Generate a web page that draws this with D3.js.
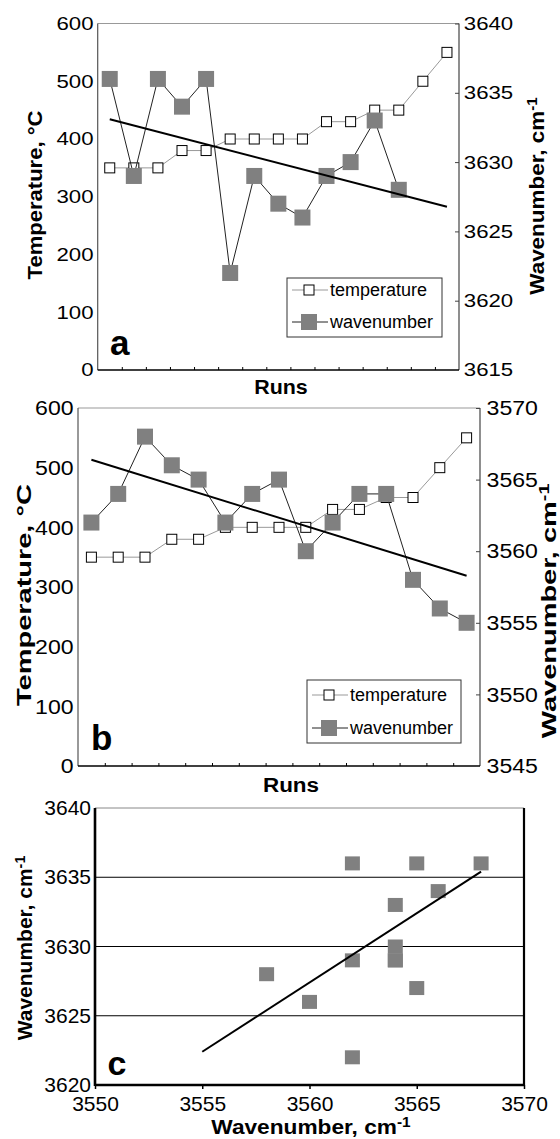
<!DOCTYPE html>
<html lang="en">
<head>
<meta charset="UTF-8">
<title>Temperature and OH wavenumber by run</title>
<script src="https://cdnjs.cloudflare.com/ajax/libs/d3/7.8.5/d3.min.js"></script>
<style>
  body { margin: 0; background: #fff; }
  svg { display: block; font-family: "Liberation Sans", Arial, sans-serif; }
</style>
</head>
<body>
<div id="chart"></div>
<script>
// --- data ---
const runs = [1, 2, 3, 4, 5, 6, 7, 8, 9, 10, 11, 12, 13, 14, 15];
const temperatureA = [350, 350, 350, 380, 380, 400, 400, 400, 400, 430, 430, 450, 450, 500, 550];
const wavenumberA = [3636, 3629, 3636, 3634, 3636, 3622, 3629, 3627, 3626, 3629, 3630, 3633, 3628];
const temperatureB = [350, 350, 350, 380, 380, 400, 400, 400, 400, 430, 430, 450, 450, 500, 550];
const wavenumberB = [3562, 3564, 3568, 3566, 3565, 3562, 3564, 3565, 3560, 3562, 3564, 3564, 3558, 3556, 3555];

const tempTicks = [0, 100, 200, 300, 400, 500, 600];
const waveTicksA = [3615, 3620, 3625, 3630, 3635, 3640];
const waveTicksB = [3545, 3550, 3555, 3560, 3565, 3570];
const scatterXTicks = [3550, 3555, 3560, 3565, 3570];
const scatterYTicks = [3620, 3625, 3630, 3635, 3640];
const scatterGrid = [3625, 3630, 3635];
// fitted line of panel c (ends)
const fitCX = [3555, 3568];
const fitCY = [3622.4, 3635.4];
const legendLabels = ["temperature", "wavenumber"];

const W = 560, H = 1139;
const GREY = "#808080";
const fmt = d3.format("d");

const svg = d3.select("#chart").append("svg")
    .attr("width", W).attr("height", H);

// text helper: rotation + stretch, optional superscript
function label(g, x, y, o) {
    const t = g.append("text")
        .attr("transform", `translate(${x},${y}) rotate(${o.rotate || 0}) scale(${o.sx || 1},${o.sy || 1})`)
        .attr("text-anchor", o.anchor || "middle")
        .attr("dy", o.dy != null ? o.dy : "0.35em")
        .style("font-size", o.size + "px")
        .style("font-weight", o.bold ? "bold" : "normal")
        .attr("fill", "#000");
    t.append("tspan").text(o.text);
    if (o.sup) {
        t.append("tspan").attr("dy", "-0.5em").style("font-size", "0.68em").text(o.sup);
    }
    return t;
}

function linearFit(xs, ys) {
    const mx = d3.mean(xs), my = d3.mean(ys);
    let sxy = 0, sxx = 0;
    xs.forEach((x, i) => { sxy += (x - mx) * (ys[i] - my); sxx += (x - mx) * (x - mx); });
    const m = sxy / sxx;
    return x => my + m * (x - mx);
}

function styleTicks(sel, size, sx) {
    sel.selectAll(".tick text")
        .style("font-size", size + "px")
        .style("font-family", "'Liberation Sans', Arial, sans-serif")
        .attr("fill", "#000")
        .attr("transform", `scale(${sx},1)`);
    sel.select(".domain").remove();
}

function drawRuns(cfg) {
    const g = svg.append("g");
    const xBand = d3.scaleBand().domain(runs).range([cfg.x0, cfg.x1]);
    const cx = r => xBand(r) + xBand.bandwidth() / 2;
    const xIdx = d3.scaleLinear().domain([0, runs.length]).range([cfg.x0, cfg.x1]);
    const yT = d3.scaleLinear().domain([0, 600]).range([cfg.y1, cfg.y0]);
    const yW = d3.scaleLinear().domain(d3.extent(cfg.waveTicks)).range([cfg.y1, cfg.y0]);

    // frame
    g.append("line").attr("x1", cfg.x0).attr("x2", cfg.x1).attr("y1", cfg.y0).attr("y2", cfg.y0)
        .attr("stroke", "#999").attr("stroke-width", 1);
    g.append("line").attr("x1", cfg.x0).attr("x2", cfg.x0).attr("y1", cfg.y0).attr("y2", cfg.y1)
        .attr("stroke", "#555").attr("stroke-width", 1.2);
    g.append("line").attr("x1", cfg.x1).attr("x2", cfg.x1).attr("y1", cfg.y0).attr("y2", cfg.y1)
        .attr("stroke", "#444").attr("stroke-width", 1.2);
    g.append("line").attr("x1", cfg.x0).attr("x2", cfg.x1).attr("y1", cfg.y1).attr("y2", cfg.y1)
        .attr("stroke", "#000").attr("stroke-width", 1.3);

    // run ticks on band boundaries (inside)
    const bx = g.append("g").attr("transform", `translate(0,${cfg.y1})`)
        .call(d3.axisBottom(xIdx).tickValues(d3.range(1, runs.length)).tickFormat("")
            .tickSizeInner(-3).tickSizeOuter(0));
    bx.select(".domain").remove();
    bx.selectAll(".tick line").attr("stroke", "#000");

    // left temperature labels
    const ly = g.append("g").attr("transform", `translate(${cfg.x0},0)`)
        .call(d3.axisLeft(yT).tickValues(tempTicks).tickFormat(fmt).tickSize(0).tickPadding(cfg.pad));
    styleTicks(ly, cfg.tickSize, cfg.tickSx);

    // right wavenumber axis, ticks inside
    const ry = g.append("g").attr("transform", `translate(${cfg.x1},0)`)
        .call(d3.axisRight(yW).tickValues(cfg.waveTicks).tickFormat(fmt)
            .tickSizeInner(-4).tickSizeOuter(0).tickPadding(cfg.padR));
    styleTicks(ry, cfg.tickSize, cfg.tickSx);
    ry.selectAll(".tick line").attr("stroke", "#444");

    // temperature series
    g.append("path").datum(cfg.temp)
        .attr("d", d3.line().x((d, i) => cx(runs[i])).y(d => yT(d)))
        .attr("fill", "none").attr("stroke", "#999").attr("stroke-width", 1);
    g.selectAll("rect.temp").data(cfg.temp).join("rect").attr("class", "temp")
        .attr("x", (d, i) => cx(runs[i]) - 5).attr("y", d => yT(d) - 5)
        .attr("width", 10).attr("height", 10)
        .attr("fill", "#fff").attr("stroke", "#000").attr("stroke-width", 1);

    // wavenumber series
    g.append("path").datum(cfg.wave)
        .attr("d", d3.line().x((d, i) => cx(runs[i])).y(d => yW(d)))
        .attr("fill", "none").attr("stroke", "#222").attr("stroke-width", 1);
    g.selectAll("rect.wave").data(cfg.wave).join("rect").attr("class", "wave")
        .attr("x", (d, i) => cx(runs[i]) - 8).attr("y", d => yW(d) - 8)
        .attr("width", 16).attr("height", 16).attr("fill", GREY);

    // linear trend of wavenumber against run
    const f = linearFit(runs.slice(0, cfg.wave.length), cfg.wave);
    const ends = [runs[0], runs[runs.length - 1]];
    g.append("path").datum(ends)
        .attr("d", d3.line().x(r => cx(r)).y(r => yW(f(r))))
        .attr("fill", "none").attr("stroke", "#000").attr("stroke-width", 2);

    // legend
    const L = cfg.legend;
    g.append("rect").attr("x", L.x).attr("y", L.y).attr("width", L.w).attr("height", L.h)
        .attr("fill", "#fff").attr("stroke", "#333").attr("stroke-width", 1);
    legendLabels.forEach((name, i) => {
        const yy = L.rows[i];
        g.append("line").attr("x1", L.x + 5).attr("x2", L.x + 41).attr("y1", yy).attr("y2", yy)
            .attr("stroke", i === 0 ? "#999" : "#222").attr("stroke-width", 1);
        if (i === 0) {
            g.append("rect").attr("x", L.x + 17).attr("y", yy - 5).attr("width", 10).attr("height", 10)
                .attr("fill", "#fff").attr("stroke", "#000");
        } else {
            g.append("rect").attr("x", L.x + 14).attr("y", yy - 8).attr("width", 16).attr("height", 16)
                .attr("fill", GREY);
        }
        label(g, L.x + 43, yy, { text: name, size: 18, anchor: "start", dy: "0.33em" });
    });

    // panel letter and titles
    label(g, cfg.letter.x, cfg.letter.y, { text: cfg.letter.text, size: 35, bold: true, anchor: "start", dy: 0 });
    label(g, cfg.leftTitle.x, cfg.leftTitle.y, { text: "Temperature, °C", size: 21, bold: true, rotate: -90, sx: cfg.leftTitle.sx });
    label(g, cfg.rightTitle.x, cfg.rightTitle.y, { text: "Wavenumber, cm", sup: "-1", size: 21, bold: true, rotate: -90, sx: cfg.rightTitle.sx });
    label(g, cfg.runsTitle.x, cfg.runsTitle.y, { text: "Runs", size: 21, bold: true, sx: cfg.runsTitle.sx });
}

drawRuns({
    x0: 97.7, x1: 459, y0: 23.5, y1: 370,
    temp: temperatureA, wave: wavenumberA, waveTicks: waveTicksA,
    tickSize: 18.5, tickSx: 1.2, pad: 3.5, padR: 4,
    legend: { x: 287, y: 278, w: 155, h: 59, rows: [290, 322] },
    letter: { text: "a", x: 110, y: 355 },
    leftTitle: { x: 35, y: 195, sx: 1.05 },
    rightTitle: { x: 537, y: 196, sx: 1.07 },
    runsTitle: { x: 281, y: 387, sx: 1.02 }
});

drawRuns({
    x0: 78, x1: 480, y0: 408, y1: 766,
    temp: temperatureB, wave: wavenumberB, waveTicks: waveTicksB,
    tickSize: 21, tickSx: 1.1, pad: 4, padR: 6,
    legend: { x: 307, y: 680, w: 154, h: 63, rows: [695, 728] },
    letter: { text: "b", x: 91, y: 750 },
    leftTitle: { x: 24, y: 595, sx: 1.38 },
    rightTitle: { x: 549, y: 611, sx: 1.38 },
    runsTitle: { x: 291, y: 785, sx: 1.07 }
});

// --- panel c: wavenumber A vs wavenumber B ---
(function () {
    const x0 = 95, x1 = 524, y0 = 808, y1 = 1085;
    const g = svg.append("g");
    const x = d3.scaleLinear().domain(d3.extent(scatterXTicks)).range([x0, x1]);
    const y = d3.scaleLinear().domain(d3.extent(scatterYTicks)).range([y1, y0]);
    const pts = wavenumberA.map((a, i) => ({ x: wavenumberB[i], y: a }));

    g.selectAll("line.grid").data(scatterGrid).join("line").attr("class", "grid")
        .attr("x1", x0).attr("x2", x1).attr("y1", d => y(d)).attr("y2", d => y(d))
        .attr("stroke", "#000").attr("stroke-width", 1);

    g.append("line").attr("x1", x0).attr("x2", x1).attr("y1", y0).attr("y2", y0)
        .attr("stroke", "#888").attr("stroke-width", 1);

    const xa = g.append("g").attr("transform", `translate(0,${y1})`)
        .call(d3.axisBottom(x).tickValues(scatterXTicks).tickFormat(fmt)
            .tickSizeInner(4).tickSizeOuter(0).tickPadding(7));
    styleTicks(xa, 21, 1);
    xa.selectAll(".tick line").attr("stroke", "#000").attr("stroke-width", 1.5);

    const ya = g.append("g").attr("transform", `translate(${x0},0)`)
        .call(d3.axisLeft(y).tickValues(scatterYTicks).tickFormat(fmt).tickSize(0).tickPadding(4));
    styleTicks(ya, 21, 1);

    g.append("line").attr("x1", x1).attr("x2", x1).attr("y1", y0).attr("y2", y1)
        .attr("stroke", "#000").attr("stroke-width", 2.2);
    g.append("line").attr("x1", x0).attr("x2", x0).attr("y1", y0).attr("y2", y1 + 1)
        .attr("stroke", "#000").attr("stroke-width", 2.6);
    g.append("line").attr("x1", x0).attr("x2", x1 + 1).attr("y1", y1).attr("y2", y1)
        .attr("stroke", "#000").attr("stroke-width", 2.6);

    g.selectAll("rect.pt").data(pts).join("rect").attr("class", "pt")
        .attr("x", d => x(d.x) - 7.5).attr("y", d => y(d.y) - 7)
        .attr("width", 15).attr("height", 14).attr("fill", GREY);

    g.append("path").datum(fitCX.map((v, i) => [v, fitCY[i]]))
        .attr("d", d3.line().x(d => x(d[0])).y(d => y(d[1])))
        .attr("fill", "none").attr("stroke", "#000").attr("stroke-width", 2);

    label(g, 107.5, 1075, { text: "c", size: 34, bold: true, anchor: "start", dy: 0 });
    label(g, 311, 1127, { text: "Wavenumber, cm", sup: "-1", size: 21, bold: true, sx: 1.08 });
    label(g, 25, 948, { text: "Wavenumber, cm", sup: "-1", size: 21, bold: true, rotate: -90, sx: 1.0 });
})();
</script>
</body>
</html>
